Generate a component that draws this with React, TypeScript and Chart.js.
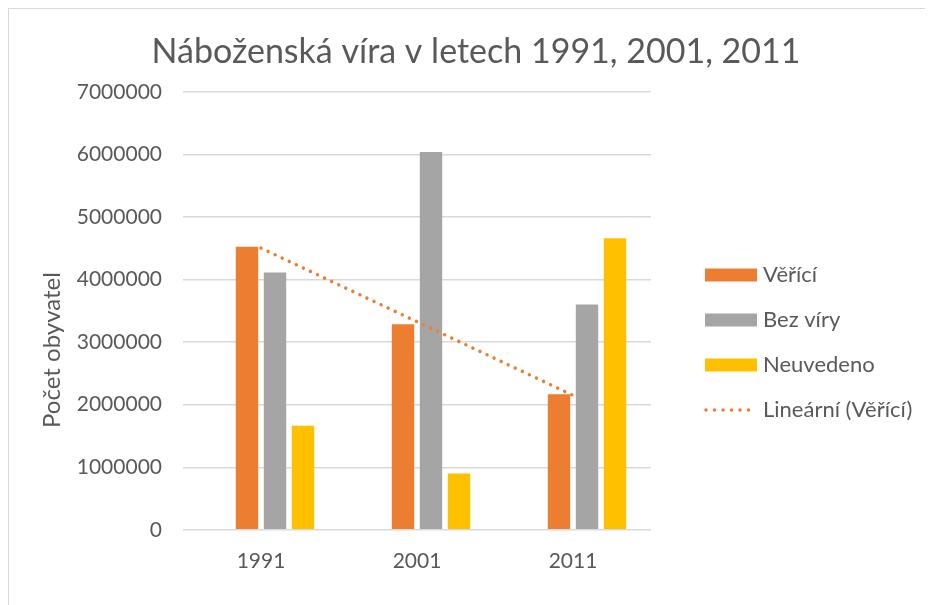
import React, { useEffect, useRef } from "react";
import { Chart, registerables } from "chart.js";

Chart.register(...registerables);

const categories = ["1991", "2001", "2011"];
const seriesNames = ["Věřící", "Bez víry", "Neuvedeno"];
const believers = [4523734, 3288088, 2168952];
const withoutFaith = [4112864, 6039991, 3604095];
const notStated = [1665617, 901981, 4662455];
const trendValues = [4504000, 3327000, 2150000];
const trendName = "Lineární (Věřící)";
const chartTitle = "Náboženská víra v letech 1991, 2001, 2011";
const yAxisTitle = "Počet obyvatel";
const yMin = 0;
const yMax = 7000000;
const yStep = 1000000;

const ORANGE = "#ED7D31";
const GRAY = "#A5A5A5";
const GOLD = "#FFC000";
const TEXT = "#595959";
const GRID = "#D9D9D9";
const FONT = "Lato, 'Open Sans', sans-serif";

const legendPlugin = {
  id: "customLegend",
  afterDraw(chart: any) {
    const ctx = chart.ctx;
    // y axis title
    ctx.save();
    ctx.translate(43, 341);
    ctx.rotate(-Math.PI / 2);
    ctx.font = `24px ${FONT}`;
    ctx.fillStyle = TEXT;
    ctx.textAlign = "center";
    ctx.textBaseline = "middle";
    ctx.fillText(yAxisTitle, 0, 0);
    ctx.restore();

    const ds = chart.data.datasets.filter((d: any) => d.label);
    const x0 = 696;
    const yStart = 266;
    const gap = 45;
    ctx.save();
    ctx.font = `22px ${FONT}`;
    ctx.textBaseline = "middle";
    ctx.textAlign = "left";
    ds.forEach((d: any, i: number) => {
      const cy = yStart + i * gap;
      if (d.type === "line") {
        ctx.save();
        ctx.strokeStyle = d.borderColor;
        ctx.lineWidth = 3.5;
        ctx.lineCap = "round";
        ctx.setLineDash([0.01, 8.5]);
        ctx.beginPath();
        ctx.moveTo(x0 + 1, cy);
        ctx.lineTo(x0 + 46, cy);
        ctx.stroke();
        ctx.restore();
      } else {
        ctx.fillStyle = d.backgroundColor;
        ctx.fillRect(x0, cy - 6.5, 52, 13);
      }
      ctx.fillStyle = TEXT;
      ctx.fillText(d.label, x0 + 58, cy);
    });
    ctx.restore();
  },
};

export default function App() {
  const ref = useRef<HTMLCanvasElement | null>(null);

  useEffect(() => {
    document.documentElement.style.overflow = "hidden";
    document.body.style.overflow = "hidden";
    const canvas = ref.current;
    if (!canvas) return;
    const chart = new Chart(canvas, {
      type: "bar",
      data: {
        labels: categories,
        datasets: [
          {
            label: "",
            data: [null, null, null],
            backgroundColor: "transparent",
          } as any,
          {
            label: seriesNames[0],
            data: believers,
            backgroundColor: ORANGE,
            order: 1,
          },
          {
            label: seriesNames[1],
            data: withoutFaith,
            backgroundColor: GRAY,
            order: 1,
          },
          {
            label: seriesNames[2],
            data: notStated,
            backgroundColor: GOLD,
            order: 1,
          },
          {
            type: "line",
            label: trendName,
            data: trendValues,
            borderColor: ORANGE,
            backgroundColor: ORANGE,
            borderWidth: 3.5,
            borderDash: [0.01, 7.8],
            borderCapStyle: "round",
            pointRadius: 0,
            fill: false,
            order: -1,
          } as any,
        ],
      },
      options: {
        animation: false,
        responsive: false,
        maintainAspectRatio: false,
        layout: { padding: { top: 22.4, right: 0, bottom: 12, left: 10 } },
        datasets: {
          bar: { categoryPercentage: 0.718, barPercentage: 0.8 },
        } as any,
        plugins: {
          legend: { display: false },
          tooltip: { enabled: false },
          title: {
            display: true,
            text: chartTitle,
            color: TEXT,
            font: { family: FONT, size: 34, weight: "normal" },
            padding: { top: 0, bottom: 19.8 },
          },
        },
        scales: {
          x: {
            grid: { display: false, drawTicks: false },
            border: { display: false },
            ticks: {
              color: TEXT,
              font: { family: FONT, size: 21 },
              padding: 19,
            },
          },
          y: {
            min: yMin,
            max: yMax,
            afterFit: (scale: any) => {
              scale.width = 164;
            },
            grid: { color: GRID, lineWidth: 1.5, drawTicks: false },
            border: { display: false },
            ticks: {
              stepSize: yStep,
              color: TEXT,
              font: { family: FONT, size: 21 },
              padding: 21,
              callback: (v: any) => String(v),
            },
          },
          yRight: {
            type: "linear",
            position: "right",
            min: 0,
            max: 1,
            afterFit: (scale: any) => {
              scale.width = 282;
            },
            grid: { display: false, drawTicks: false },
            border: { display: false },
            ticks: { display: false },
          } as any,
        },
      },
      plugins: [legendPlugin],
    });
    return () => chart.destroy();
  }, []);

  return (
    <div
      style={{
        width: 925,
        height: 597,
        boxSizing: "border-box",
        borderTop: "1px solid #D9D9D9",
        borderLeft: "1px solid #D9D9D9",
        overflow: "hidden",
      }}
    >
      <canvas ref={ref} width={924} height={596} style={{ display: "block" }} />
    </div>
  );
}
